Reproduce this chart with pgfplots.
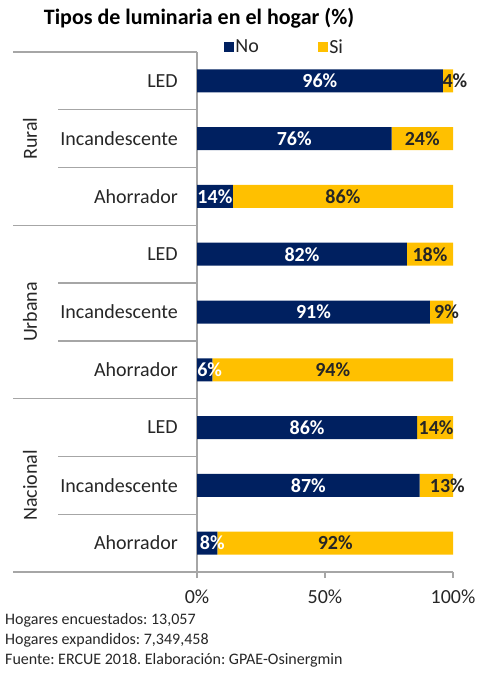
\documentclass[border=0pt]{standalone}
\usepackage{pgfplots}
\pgfplotsset{compat=1.18}
\usepackage{pgfplotstable}
\usepackage{fontspec}
\setmainfont{Carlito}
\frenchspacing
\definecolor{navy}{HTML}{002060}
\definecolor{gold}{HTML}{FFC000}
\definecolor{axgray}{HTML}{A6A6A6}
\definecolor{txt}{HTML}{262626}

\pgfplotstableread{
idx no si
0 96 4
1 76 24
2 14 86
3 82 18
4 91 9
5 6 94
6 86 14
7 87 13
8 8 92
}\datatable

\pgfplotsset{
  basegeom/.style={
    at={(197bp,-52bp)}, anchor=north west,
    scale only axis, width=256bp, height=520bp,
    xbar stacked, bar width=23bp,
    xmin=0, xmax=100, ymin=-0.5, ymax=8.5, y dir=reverse,
    clip=false,
  },
}

\begin{document}
\begin{tikzpicture}
\path[use as bounding box] (0bp,0bp) rectangle (477bp,-675bp);
\begin{axis}[
  basegeom,
  axis x line*=bottom, axis y line*=left,
  axis line style={axgray, line width=1.3bp, -},
  xtick={0,50,100}, xticklabels={0\%,50\%,100\%},
  x tick style={axgray, line width=1.3bp},
  major tick length=6bp, tick align=outside,
  ytick={0,...,8},
  yticklabels={LED,Incandescente,Ahorrador,LED,Incandescente,Ahorrador,LED,Incandescente,Ahorrador},
  y tick style={draw=none},
  ticklabel style={font=\fontsize{20bp}{24bp}\selectfont, text=txt},
  yticklabel style={inner sep=0pt, anchor=east, xshift=-13bp},
  xticklabel style={inner sep=0pt, anchor=north, yshift=-12bp},
  legend style={draw=none, fill=none, at={(rel axis cs:0.105,1.0096)}, anchor=west,
    legend columns=2, inner sep=0pt,
    font=\fontsize{20bp}{24bp}\selectfont, text=txt,
    /tikz/every even column/.append style={column sep=57bp}},
]
\addlegendimage{legend image code/.code={\fill[navy] (0bp,-4.5bp) rectangle (9bp,4.5bp);}}
\addlegendentry{No}
\addlegendimage{legend image code/.code={\fill[gold] (0bp,-4.5bp) rectangle (9bp,4.5bp);}}
\addlegendentry{Si}
\addplot[fill=navy, draw=none, forget plot] table[x=no, y=idx] \datatable;
\addplot[fill=gold, draw=none, forget plot] table[x=si, y=idx] \datatable;
\end{axis}
% labels on top of all bars
\begin{axis}[
  basegeom, hide axis,
  nodes near coords={\pgfplotspointmeta\%},
  point meta=explicit symbolic,
]
\addplot[fill=none, draw=none, forget plot,
  every node near coord/.append style={anchor=center, inner sep=0pt, text=white,
    xshift={{0,0,0,0,0,5,0,0,5}[\coordindex]*1bp},
    font=\bfseries\fontsize{20bp}{24bp}\selectfont}]
  table[x=no, y=idx, meta=no] \datatable;
\addplot[fill=none, draw=none, forget plot,
  every node near coord/.append style={anchor=center, inner sep=0pt, text=txt,
    xshift={{7,0,0,0,5,0,1,11,0}[\coordindex]*1bp},
    font=\bfseries\fontsize{20bp}{24bp}\selectfont}]
  table[x=si, y=idx, meta=si] \datatable;
\end{axis}
% category separators
\foreach \k in {0,3,6,9} {
  \draw[axgray, line width=1.3bp] (13bp,{-52bp-\k*57.778bp}) -- (197bp,{-52bp-\k*57.778bp});
}
\foreach \k in {1,2,4,5,7,8} {
  \draw[axgray, line width=1.3bp] (58bp,{-52bp-\k*57.778bp}) -- (197bp,{-52bp-\k*57.778bp});
}
\node[rotate=90, text=txt, font=\fontsize{20bp}{24bp}\selectfont] at (30bp,-138.7bp) {Rural};
\node[rotate=90, text=txt, font=\fontsize{20bp}{24bp}\selectfont] at (30bp,-312bp) {Urbana};
\node[rotate=90, text=txt, font=\fontsize{20bp}{24bp}\selectfont] at (30bp,-485.3bp) {Nacional};
% title
\node[anchor=center, inner sep=0pt, font=\bfseries\fontsize{22bp}{26bp}\selectfont, text=black] at (199bp,-18bp) {Tipos de luminaria en el hogar (\%)};
% footnotes
\node[anchor=west, inner sep=0pt, text=txt, font=\fontsize{16bp}{19bp}\selectfont] at (5bp,-620bp) {Hogares encuestados: 13,057};
\node[anchor=west, inner sep=0pt, text=txt, font=\fontsize{16bp}{19bp}\selectfont] at (5bp,-640bp) {Hogares expandidos: 7,349,458};
\node[anchor=west, inner sep=0pt, text=txt, font=\fontsize{16bp}{19bp}\selectfont] at (5bp,-660bp) {Fuente: ERCUE 2018. Elaboración: GPAE-Osinergmin};
\end{tikzpicture}
\end{document}
